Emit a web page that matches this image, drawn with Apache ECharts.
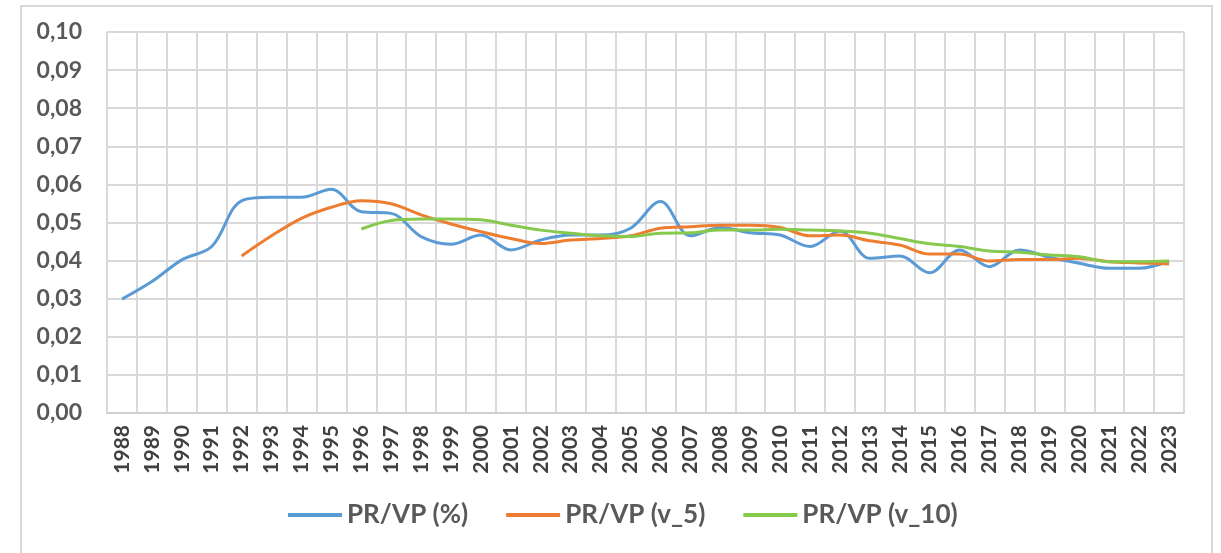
<!DOCTYPE html>
<html>
<head>
<meta charset="utf-8">
<script src="https://cdn.jsdelivr.net/npm/echarts@6/dist/echarts.min.js"></script>
<style>
  html, body { margin: 0; padding: 0; background: #fff; }
  #frame {
    position: absolute; left: 20px; top: 5px; width: 1193px; height: 560px;
    border: 2px solid #d9d9d9; box-sizing: border-box;
  }
  #chart { position: absolute; left: 0; top: 0; width: 1221px; height: 553px; }
</style>
</head>
<body>
<div id="frame"></div>
<div id="chart"></div>
<script>
const years = [
  "1988", "1989", "1990", "1991", "1992", "1993", "1994", "1995", "1996", "1997",
  "1998", "1999", "2000", "2001", "2002", "2003", "2004", "2005", "2006", "2007",
  "2008", "2009", "2010", "2011", "2012", "2013", "2014", "2015", "2016", "2017",
  "2018", "2019", "2020", "2021", "2022", "2023"
];

const prvp = [
  0.0299, 0.0345, 0.0402, 0.0437, 0.0557, 0.0566, 0.0566, 0.0587, 0.0528, 0.0524,
  0.0463, 0.0443, 0.0467, 0.0428, 0.0454, 0.0467, 0.0467, 0.0485, 0.0555, 0.0465,
  0.0487, 0.0473, 0.0467, 0.0437, 0.0478, 0.0406, 0.0412, 0.0368, 0.0428, 0.0384,
  0.0428, 0.0409, 0.0393, 0.0380, 0.0380, 0.0399
];

const prvpV5 = [
  "-", "-", "-", "-", 0.0412, 0.0465, 0.0511, 0.0540, 0.0557, 0.0549,
  0.0520, 0.0496, 0.0476, 0.0458, 0.0445, 0.0454, 0.0458, 0.0465, 0.0485, 0.0489,
  0.0493, 0.0493, 0.0487, 0.0465, 0.0467, 0.0452, 0.0441, 0.0417, 0.0417, 0.0399,
  0.0403, 0.0403, 0.0406, 0.0397, 0.0394, 0.0391
];

const prvpV10 = [
  "-", "-", "-", "-", "-", "-", "-", "-", 0.0483, 0.0505,
  0.0509, 0.0509, 0.0507, 0.0493, 0.0480, 0.0472, 0.0465, 0.0463, 0.0472, 0.0473,
  0.0480, 0.0480, 0.0482, 0.0480, 0.0478, 0.0472, 0.0458, 0.0444, 0.0437, 0.0425,
  0.0422, 0.0415, 0.0410, 0.0397, 0.0397, 0.0399
];

const seriesNames = ["PR/VP (%)", "PR/VP (v_5)", "PR/VP (v_10)"];
const colors = ["#5b9bd5", "#ed7d31", "#86c94c"];

const chart = echarts.init(document.getElementById("chart"));

function lineSeries(name, data, color) {
  return {
    name: name,
    type: "line",
    data: data,
    smooth: 0.35,
    showSymbol: false,
    symbol: "none",
    itemStyle: { color: color },
    lineStyle: { width: 3, color: color },
  };
}

const option = {
  animation: false,
  textStyle: { fontFamily: "Lato" },
  grid: { left: 107, top: 32, right: 37, bottom: 140 },
  legend: {
    bottom: 20,
    left: 283,
    itemGap: 38,
    itemWidth: 54,
    itemHeight: 4,
    icon: "rect",
    textStyle: { fontSize: 26, fontWeight: "bold", color: "#595959", fontFamily: "Lato" },
    data: seriesNames,
  },
  xAxis: {
    type: "category",
    data: years,
    boundaryGap: true,
    axisTick: { show: false },
    axisLine: { lineStyle: { color: "#d0d0d0", width: 2 } },
    splitLine: { show: true, lineStyle: { color: "#d9d9d9", width: 2 } },
    axisLabel: {
      rotate: 90,
      interval: 0,
      margin: 12,
      color: "#404040",
      fontSize: 21,
      fontWeight: "bold",
      fontFamily: "Lato",
    },
  },
  yAxis: {
    type: "value",
    min: 0,
    max: 0.1,
    interval: 0.01,
    axisLine: { show: false },
    axisTick: { show: false },
    splitLine: { lineStyle: { color: "#d9d9d9", width: 2 } },
    axisLabel: {
      margin: 25,
      color: "#595959",
      fontSize: 23,
      fontWeight: "bold",
      fontFamily: "Lato",
      formatter: function (v) {
        return v.toFixed(2).replace(".", ",");
      },
    },
  },
  series: [
    lineSeries(seriesNames[0], prvp, colors[0]),
    lineSeries(seriesNames[1], prvpV5, colors[1]),
    lineSeries(seriesNames[2], prvpV10, colors[2]),
  ],
};

chart.setOption(option);
</script>
</body>
</html>
